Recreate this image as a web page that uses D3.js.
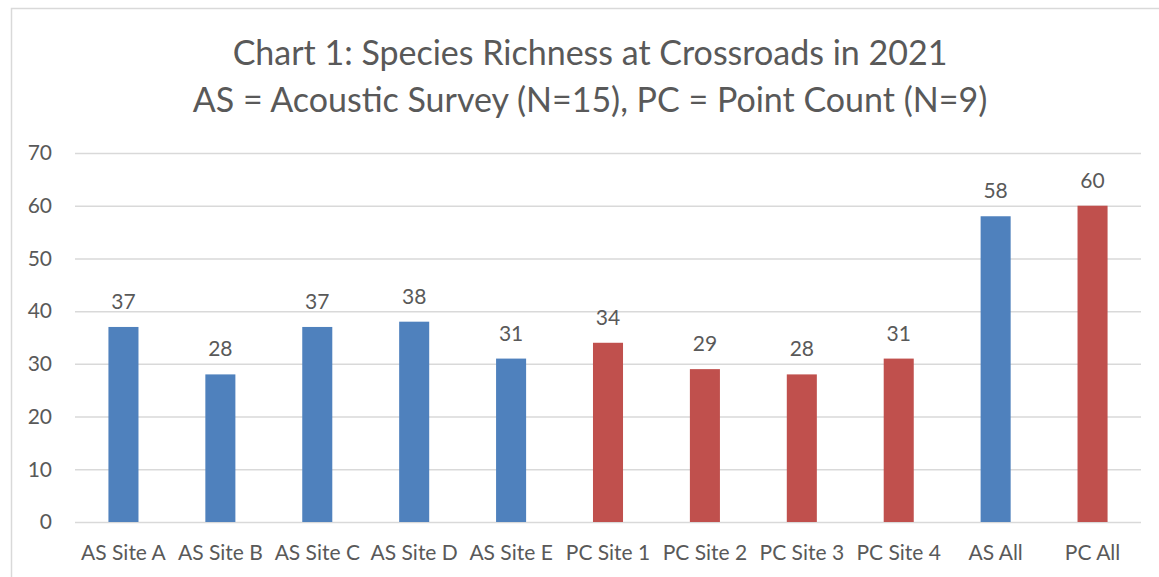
<!DOCTYPE html>
<html>
<head>
<meta charset="utf-8">
<script src="https://cdn.jsdelivr.net/npm/d3@7"></script>
<style>
  body { margin: 0; background: #fff; }
  text { font-family: Lato, "Open Sans", sans-serif; fill: #595959; }
</style>
</head>
<body>
<script>
// DATA
const categories = ['AS Site A', 'AS Site B', 'AS Site C', 'AS Site D', 'AS Site E',
  'PC Site 1', 'PC Site 2', 'PC Site 3', 'PC Site 4', 'AS All', 'PC All'];
const richness = [37, 28, 37, 38, 31, 34, 29, 28, 31, 58, 60];
const methods = ['AS', 'AS', 'AS', 'AS', 'AS', 'PC', 'PC', 'PC', 'PC', 'AS', 'PC'];
const yTicks = [0, 10, 20, 30, 40, 50, 60, 70];
const titleLines = ['Chart 1: Species Richness at Crossroads in 2021',
  'AS = Acoustic Survey (N=15), PC = Point Count (N=9)'];

// CONFIGURATION
const width = 1159;
const height = 577;
const margin = { left: 75, right: 18, top: 153, bottom: 55 };
const colors = { AS: '#4f81bd', PC: '#c0504d' };

const svg = d3.select('body')
  .append('svg')
  .attr('width', width)
  .attr('height', height);

// chart frame
svg.append('rect')
  .attr('x', 11.5)
  .attr('y', 8.5)
  .attr('width', width)
  .attr('height', height)
  .attr('fill', 'none')
  .attr('stroke', '#d9d9d9')
  .attr('stroke-width', 1.5);

// TITLE
svg.append('g')
  .selectAll('text')
  .data(titleLines)
  .enter()
  .append('text')
  .attr('x', 590)
  .attr('y', (d, i) => 65 + i * 47)
  .attr('text-anchor', 'middle')
  .style('font-size', '34px')
  .text(d => d);

// SCALES
const x = d3.scaleBand()
  .domain(categories)
  .range([margin.left, width - margin.right])
  .paddingInner(0.69)
  .paddingOuter(0.345);

const y = d3.scaleLinear()
  .domain([0, 70])
  .range([height - margin.bottom, margin.top]);

// Y AXIS + GRID
const yAxis = svg.append('g')
  .attr('transform', `translate(${margin.left}, 0)`)
  .call(d3.axisLeft(y)
    .tickValues(yTicks)
    .tickSize(-(width - margin.left - margin.right))
    .tickPadding(23));
yAxis.select('.domain').remove();
yAxis.selectAll('line').attr('stroke', '#d9d9d9').attr('stroke-width', 1.5);
yAxis.selectAll('text').style('font-size', '21px');

// BARS
svg.selectAll('rect.bar')
  .data(richness)
  .enter()
  .append('rect')
  .attr('class', 'bar')
  .attr('x', (d, i) => x(categories[i]))
  .attr('y', d => y(d))
  .attr('width', x.bandwidth())
  .attr('height', d => y(0) - y(d))
  .attr('fill', (d, i) => colors[methods[i]]);

// DATA LABELS
svg.selectAll('text.label')
  .data(richness)
  .enter()
  .append('text')
  .attr('class', 'label')
  .attr('x', (d, i) => x(categories[i]) + x.bandwidth() / 2)
  .attr('y', d => y(d) - 18)
  .attr('text-anchor', 'middle')
  .style('font-size', '21px')
  .text(d => d);

// X AXIS
const xAxis = svg.append('g')
  .attr('transform', `translate(0, ${y(0)})`)
  .call(d3.axisBottom(x).tickSize(0).tickPadding(23));
xAxis.select('.domain').remove();
xAxis.selectAll('text').style('font-size', '21px');
</script>
</body>
</html>
